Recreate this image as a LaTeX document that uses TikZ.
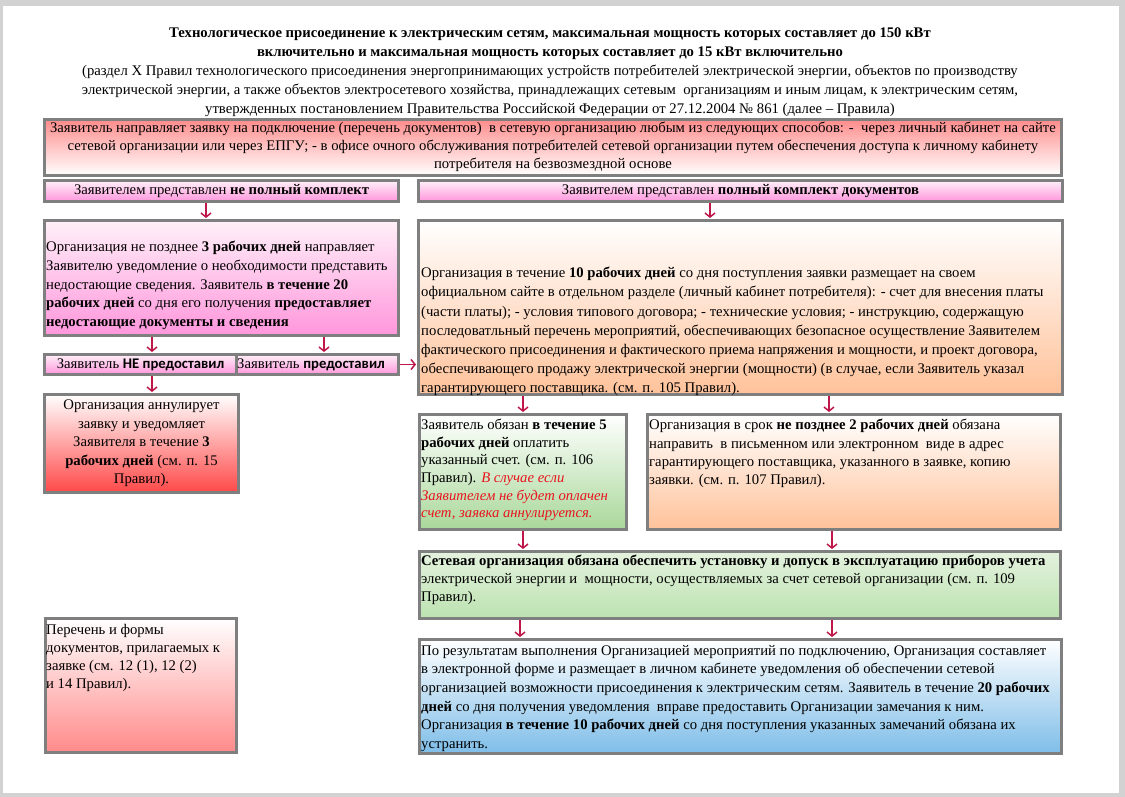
\documentclass[tikz,border=0pt]{standalone}
\usepackage{fontspec}
\setmainfont{Liberation Serif}
\newfontfamily\calib{Carlito}
\usetikzlibrary{arrows.meta,calc}
\definecolor{framegray}{HTML}{D2D2D2}
\definecolor{boxgray}{HTML}{7F7F7F}
\definecolor{arrowred}{HTML}{C0174A}
\definecolor{redtext}{HTML}{E8141E}
\definecolor{pinkbot}{HTML}{FF96DC}
\definecolor{pinktop}{HTML}{FFF0F8}
\definecolor{redtop}{HTML}{FF8C8C}
\definecolor{redbot}{HTML}{FF4848}
\definecolor{peach}{HTML}{FFC29A}
\definecolor{greenbot}{HTML}{A9D89A}
\definecolor{greenlt}{HTML}{E4F2DE}
\definecolor{greenmid}{HTML}{BCE2B0}
\definecolor{bluebot}{HTML}{7EBDE8}
\definecolor{listbot}{HTML}{FF8A8A}
\begin{document}
\begin{tikzpicture}[x=1pt,y=-1pt,
  box/.style={draw=boxgray, line width=3pt, inner sep=0pt, anchor=north west, shading angle=0},
  txt/.style={inner sep=0pt, font=\fontsize{14.7}{#1}\selectfont, align=left},
  arr/.style={draw=arrowred, line width=1.5pt, -{Straight Barb[length=4pt,width=10pt,line width=1.5pt]}}]
\useasboundingbox (0,0) rectangle (1125,797);
\fill[framegray] (0,0) rectangle (1125,797);
\fill[white] (3,6) rectangle (1119,793);

% boxes
\node[box, minimum width=1017pt, minimum height=56pt, top color=redtop, bottom color=white] (top) at (43,118) {};
\node[box, minimum width=354pt, minimum height=21pt, top color=pinktop, bottom color=pinkbot] (hdrL) at (43,179) {};
\node[box, minimum width=644pt, minimum height=21pt, top color=pinktop, bottom color=pinkbot] (hdrR) at (417,179) {};
\node[box, minimum width=354pt, minimum height=115pt, top color=pinktop, bottom color=pinkbot] (pinkL) at (43,219) {};
\node[box, minimum width=192pt, minimum height=20pt, top color=pinktop, bottom color=pinkbot] (neL) at (43,353) {};
\node[box, minimum width=162pt, minimum height=20pt, top color=pinktop, bottom color=pinkbot] (daL) at (235,353) {};
\node[box, minimum width=194pt, minimum height=98pt, top color=white, bottom color=redbot] (redL) at (43,393) {};
\node[box, minimum width=644pt, minimum height=174pt, top color=white, bottom color=peach] (orange) at (417,219) {};
\node[box, minimum width=207pt, minimum height=115pt, top color=white, bottom color=greenbot] (greenS) at (418,413) {};
\node[box, minimum width=413pt, minimum height=115pt, top color=white, bottom color=peach] (orangeS) at (646,413) {};
\node[box, minimum width=641pt, minimum height=67pt, top color=greenlt, bottom color=greenmid] (greenW) at (418,550) {};
\node[box, minimum width=642pt, minimum height=114pt, top color=white, bottom color=bluebot] (blue) at (418,638) {};
\node[box, minimum width=191pt, minimum height=134pt, top color=white, bottom color=listbot] (listL) at (44,617) {};

% texts
\node[txt=18.8, align=center, anchor=north] (title) at (550,28) {\textbf{Технологическое присоединение к электрическим сетям, максимальная мощность которых составляет до 150 кВт}\\
\textbf{включительно и максимальная мощность которых составляет до 15 кВт включительно}\\
(раздел Х Правил технологического присоединения энергопринимающих устройств потребителей электрической энергии, объектов по производству\\
электрической энергии, а также объектов электросетевого хозяйства, принадлежащих сетевым\ \ организациям и иным лицам, к электрическим сетям,\\
утвержденных постановлением Правительства Российской Федерации от 27.12.2004 № 861 (далее – Правила)};

\node[txt=18, align=center, anchor=north] (topT) at ($(top.north)+(0,4)$) {Заявитель направляет заявку на подключение (перечень документов)\ \ в сетевую организацию любым из следующих способов: -\ \ через личный кабинет на сайте\\
сетевой организации или через ЕПГУ; - в офисе очного обслуживания потребителей сетевой организации путем обеспечения доступа к личному кабинету\\
потребителя на безвозмездной основе};

\node[txt=18] (hdrLT) at (hdrL.center) {Заявителем представлен \textbf{не полный комплект}};
\node[txt=18] (hdrRT) at (hdrR.center) {Заявителем представлен \textbf{полный комплект документов}};

\node[txt=18.75, anchor=north west] (pinkLT) at ($(pinkL.north west)+(3,22)$) {Организация не позднее \textbf{3 рабочих дней} направляет\\
Заявителю уведомление о необходимости представить\\
недостающие сведения. Заявитель \textbf{в течение 20}\\
\textbf{рабочих дней} со дня его получения \textbf{предоставляет}\\
\textbf{недостающие документы и сведения}};

\node[txt=18] (neLT) at (neL.center) {Заявитель {\calib\bfseries НЕ предоставил}};
\node[txt=18, anchor=west] (daLT) at ($(daL.west)+(2,0)$) {Заявитель {\calib\bfseries предоставил}};

\node[txt=18.5, align=center, anchor=north] (redLT) at ($(redL.north)+(0,7)$) {Организация аннулирует\\
заявку и уведомляет\\
Заявителя в течение \textbf{3}\\
\textbf{рабочих дней} (см. п. 15\\
Правил).};

\node[txt=19.2, anchor=north west] (orangeT) at ($(orange.north west)+(4,48)$) {Организация в течение \textbf{10 рабочих дней} со дня поступления заявки размещает на своем\\
официальном сайте в отдельном разделе (личный кабинет потребителя): - счет для внесения платы\\
(части платы); - условия типового договора; - технические условия; - инструкцию, содержащую\\
последоватльный перечень мероприятий, обеспечивающих безопасное осуществление Заявителем\\
фактического присоединения и фактического приема напряжения и мощности, и проект договора,\\
обеспечивающего продажу электрической энергии (мощности) (в случае, если Заявитель указал\\
гарантирующего поставщика. (см. п. 105 Правил).};

\node[txt=17.6, anchor=north west] (greenST) at ($(greenS.north west)+(3,6)$) {Заявитель обязан \textbf{в течение 5}\\
\textbf{рабочих дней} оплатить\\
указанный счет. (см. п. 106\\
Правил). \textcolor{redtext}{\itshape В случае если}\\
\textcolor{redtext}{\itshape Заявителем не будет оплачен}\\
\textcolor{redtext}{\itshape счет, заявка аннулируется.}};

\node[txt=18.3, anchor=north west] (orangeST) at ($(orangeS.north west)+(3,6)$) {Организация в срок \textbf{не позднее 2 рабочих дней} обязана\\
направить\ \ в письменном или электронном\ \ виде в адрес\\
гарантирующего поставщика, указанного в заявке, копию\\
заявки. (см. п. 107 Правил).};

\node[txt=18, anchor=north west] (greenWT) at ($(greenW.north west)+(3,5)$) {\textbf{Сетевая организация обязана обеспечить установку и допуск в эксплуатацию приборов учета}\\
электрической энергии и\ \ мощности, осуществляемых за счет сетевой организации (см. п. 109\\
Правил).};

\node[txt=18.6, anchor=north west] (blueT) at ($(blue.north west)+(3,7)$) {По результатам выполнения Организацией мероприятий по подключению, Организация составляет\\
в электронной форме и размещает в личном кабинете уведомления об обеспечении сетевой\\
организацией возможности присоединения к электрическим сетям. Заявитель в течение \textbf{20 рабочих}\\
\textbf{дней} со дня получения уведомления\ \ вправе предоставить Организации замечания к ним.\\
Организация \textbf{в течение 10 рабочих дней} со дня поступления указанных замечаний обязана их\\
устранить.};

\node[txt=18, anchor=north west] (listLT) at ($(listL.north west)+(2,7)$) {Перечень и формы\\
документов, прилагаемых к\\
заявке (см. 12 (1), 12 (2)\\
и 14 Правил).};

% arrows
\draw[arr] ($(hdrL.south west)+(163,0)$) -- ($(pinkL.north west)+(163,-1)$);
\draw[arr] ($(hdrR.south west)+(293,0)$) -- ($(orange.north west)+(293,-1)$);
\draw[arr] ($(pinkL.south west)+(109,0)$) -- ($(neL.north west)+(109,-1)$);
\draw[arr] ($(pinkL.south west)+(281,0)$) -- ($(daL.north west)+(89,-1)$);
\draw[arr] ($(neL.south west)+(109,0)$) -- ($(redL.north west)+(109,-1)$);
\draw[arr] (daL.east) -- ($(orange.north west |- daL.east)+(-1,0)$);
\draw[arr] ($(orange.south west)+(106,0)$) -- ($(greenS.north west)+(105,-1)$);
\draw[arr] ($(orange.south west)+(412,0)$) -- ($(orangeS.north west)+(183,-1)$);
\draw[arr] ($(greenS.south west)+(105,0)$) -- ($(greenW.north west)+(105,-1)$);
\draw[arr] ($(orangeS.south west)+(186,0)$) -- ($(greenW.north west)+(414,-1)$);
\draw[arr] ($(greenW.south west)+(102,0)$) -- ($(blue.north west)+(102,-1)$);
\draw[arr] ($(greenW.south west)+(414,0)$) -- ($(blue.north west)+(414,-1)$);
\end{tikzpicture}
\end{document}
